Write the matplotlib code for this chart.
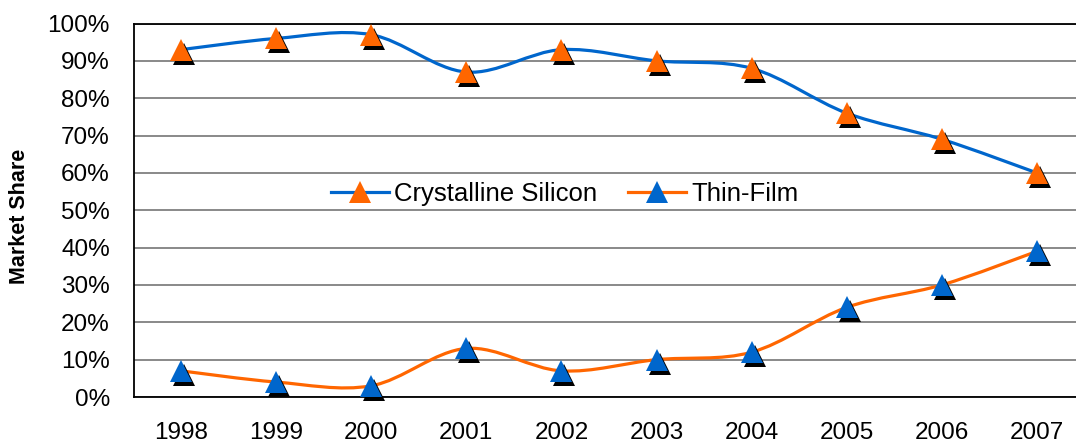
import matplotlib
matplotlib.use("Agg")
import matplotlib.pyplot as plt
from matplotlib.path import Path
from matplotlib.patches import PathPatch
from matplotlib.lines import Line2D
import matplotlib.transforms as mtransforms
import numpy as np

years = ["1998", "1999", "2000", "2001", "2002", "2003", "2004", "2005", "2006", "2007"]
crystalline = [93, 96, 97, 87, 93, 90, 88, 76, 69, 60]
thin_film = [7, 4, 3, 13, 7, 10, 12, 24, 30, 39]
y_ticks = [0, 10, 20, 30, 40, 50, 60, 70, 80, 90, 100]
y_tick_labels = [f"{v}%" for v in y_ticks]

BLUE = "#0066CC"
ORANGE = "#FF6600"

plt.rcParams['font.family'] = ['Liberation Sans', 'DejaVu Sans']

fig = plt.figure(figsize=(10.76, 4.47), dpi=100)
W, H = 1076, 447
left, right, top, bottom = 133.5, 1084.5, 23.5, 397
ax = fig.add_axes([left / W, (H - bottom) / H, (right - left) / W, (bottom - top) / H])

x = np.arange(len(years))


def smooth_path(xs, ys):
    pts = np.column_stack([xs, ys]).astype(float)
    n = len(pts)
    verts = [pts[0]]
    codes = [Path.MOVETO]
    for i in range(n - 1):
        p0 = pts[i - 1] if i > 0 else pts[i]
        p1 = pts[i]
        p2 = pts[i + 1]
        p3 = pts[i + 2] if i + 2 < n else pts[i + 1]
        c1 = p1 + (p2 - p0) / 6.0
        c2 = p2 - (p3 - p1) / 6.0
        verts += [c1, c2, p2]
        codes += [Path.CURVE4] * 3
    return Path(verts, codes)


LW = 2.3
MS = 16

for vals, lc in [(crystalline, BLUE), (thin_film, ORANGE)]:
    patch = PathPatch(smooth_path(x, vals), facecolor="none", edgecolor=lc,
                      lw=LW, zorder=3, capstyle="round", joinstyle="round")
    ax.add_patch(patch)

shadow_tr = mtransforms.offset_copy(ax.transData, fig=fig, x=3, y=-4, units="dots")
for vals, mc in [(crystalline, ORANGE), (thin_film, BLUE)]:
    ax.plot(x, vals, linestyle="none", marker="^", ms=MS, mfc="black", mec="black",
            mew=0, transform=shadow_tr, zorder=4, clip_on=False)
    ax.plot(x, vals, linestyle="none", marker="^", ms=MS, mfc=mc, mec=mc,
            mew=0, zorder=5, clip_on=False)

ax.set_xlim(-0.5, len(years) - 0.5)
ax.set_ylim(0, 100)
ax.set_xticks(x)
ax.set_xticklabels(years, fontsize=17.5)
ax.set_yticks(y_ticks)
ax.set_yticklabels(y_tick_labels, fontsize=17.5)
ax.tick_params(axis="x", length=0, pad=18)
ax.tick_params(axis="y", length=0, pad=17)
ax.yaxis.grid(True, color="#808080", lw=1.3)
ax.set_axisbelow(True)
ax.spines["right"].set_visible(False)
for s in ["left", "bottom", "top"]:
    ax.spines[s].set_color("black")
    ax.spines[s].set_linewidth(1.3)

fig.text(20 / W, (H - 216) / H, "Market Share", rotation=90, fontsize=15.5,
         fontweight="bold", ha="center", va="center")

handles = [
    Line2D([], [], color=BLUE, lw=LW, marker="^", ms=MS, mfc=ORANGE, mec=ORANGE, mew=0),
    Line2D([], [], color=ORANGE, lw=LW, marker="^", ms=MS, mfc=BLUE, mec=BLUE, mew=0),
]
leg = ax.legend(handles, ["Crystalline Silicon", "Thin-Film"], ncol=2, frameon=False,
                fontsize=18.5, loc="center",
                bbox_to_anchor=((565 - left) / (right - left), (bottom - 194) / (bottom - top)),
                handlelength=2.25, handletextpad=0.2, columnspacing=1.2, borderpad=0)

fig.savefig("out.png", dpi=100)
